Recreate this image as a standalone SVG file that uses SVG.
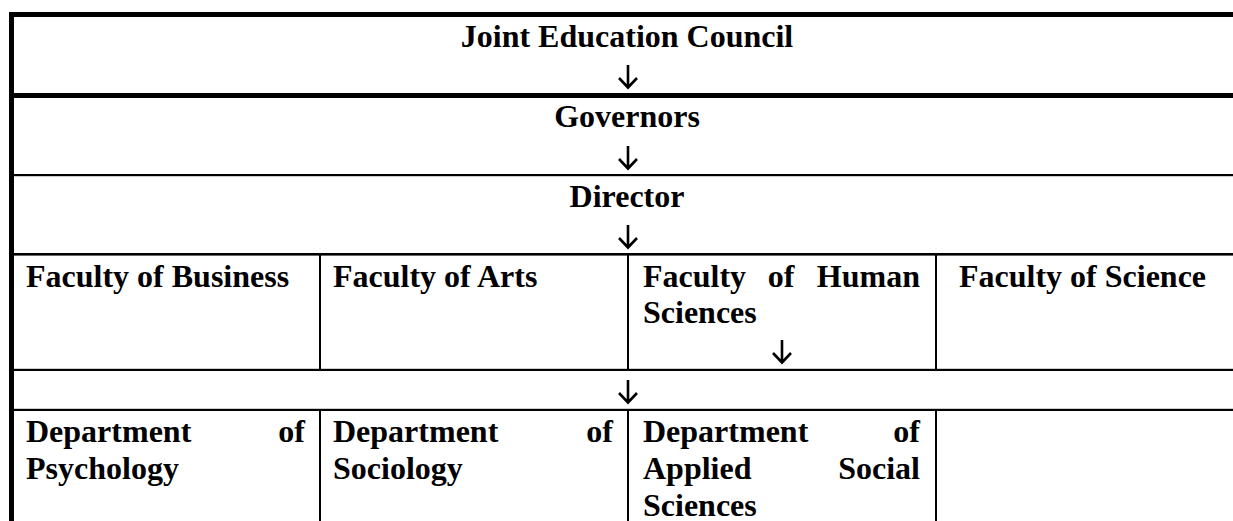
<svg xmlns="http://www.w3.org/2000/svg" width="1233" height="521" viewBox="0 0 1233 521">
  <style>
    .t { font-family: "Liberation Serif", "Times New Roman", serif; font-weight: bold; font-size: 32px; fill: #000; }
    .c { text-anchor: middle; }
    .e { text-anchor: end; }
    .rule { fill: #000; }
    .arrow { fill: none; stroke: #000; stroke-width: 2.6; stroke-linecap: butt; stroke-linejoin: miter; }
  </style>
  <defs>
    <!-- downward arrow: stem plus open V head, tip at origin -->
    <path id="down" class="arrow" d="M0,-23 V-1 M-9,-10 L0,-0.5 L9,-10"/>
  </defs>
  <rect width="1233" height="521" fill="#fff"/>

  <!-- table rules -->
  <g id="grid">
    <rect class="rule" x="9" y="12" width="1224" height="5"/>
    <rect class="rule" x="9" y="12" width="5" height="509"/>
    <rect class="rule" x="9" y="93" width="1224" height="5"/>
    <rect class="rule" x="9" y="174" width="1224" height="2.2"/>
    <rect class="rule" x="9" y="253" width="1224" height="2.6"/>
    <rect class="rule" x="9" y="368.8" width="1224" height="2.2"/>
    <rect class="rule" x="9" y="408.8" width="1224" height="2.2"/>
    <!-- column dividers, faculty row -->
    <rect class="rule" x="319" y="255" width="2" height="114"/>
    <rect class="rule" x="627" y="255" width="2" height="114"/>
    <rect class="rule" x="935" y="255" width="2" height="114"/>
    <!-- column dividers, department row -->
    <rect class="rule" x="319" y="410" width="2" height="111"/>
    <rect class="rule" x="627" y="410" width="2" height="111"/>
    <rect class="rule" x="935" y="410" width="2" height="111"/>
  </g>

  <g id="joint-education-council">
    <text class="t c" x="627" y="47">Joint Education Council</text>
  </g>
  <g id="governors">
    <text class="t c" x="627" y="127">Governors</text>
  </g>
  <g id="director">
    <text class="t c" x="627" y="206.5">Director</text>
  </g>

  <g id="faculty-business">
    <text class="t" x="26" y="286.5">Faculty of Business</text>
  </g>
  <g id="faculty-arts">
    <text class="t" x="333" y="286.5">Faculty of Arts</text>
  </g>
  <g id="faculty-human-sciences">
    <text class="t" x="643" y="286.5">Faculty</text>
    <text class="t c" x="781" y="286.5">of</text>
    <text class="t e" x="920" y="286.5">Human</text>
    <text class="t" x="643" y="322.5">Sciences</text>
  </g>
  <g id="faculty-science">
    <text class="t" x="959" y="286.5">Faculty of Science</text>
  </g>

  <g id="dept-psychology">
    <text class="t" x="26" y="441.5">Department</text>
    <text class="t e" x="305" y="441.5">of</text>
    <text class="t" x="26" y="478.5">Psychology</text>
  </g>
  <g id="dept-sociology">
    <text class="t" x="333" y="441.5">Department</text>
    <text class="t e" x="613" y="441.5">of</text>
    <text class="t" x="333" y="478.5">Sociology</text>
  </g>
  <g id="dept-applied-social-sciences">
    <text class="t" x="643" y="441.5">Department</text>
    <text class="t e" x="920" y="441.5">of</text>
    <text class="t" x="643" y="478.5">Applied</text>
    <text class="t e" x="920" y="478.5">Social</text>
    <text class="t" x="643" y="515.5">Sciences</text>
  </g>

  <!-- reporting lines -->
  <g id="connectors">
    <use href="#down" x="628" y="88"/>
    <use href="#down" x="628" y="169"/>
    <use href="#down" x="628" y="248"/>
    <use href="#down" x="782" y="363"/>
    <use href="#down" x="628" y="403"/>
  </g>
</svg>
